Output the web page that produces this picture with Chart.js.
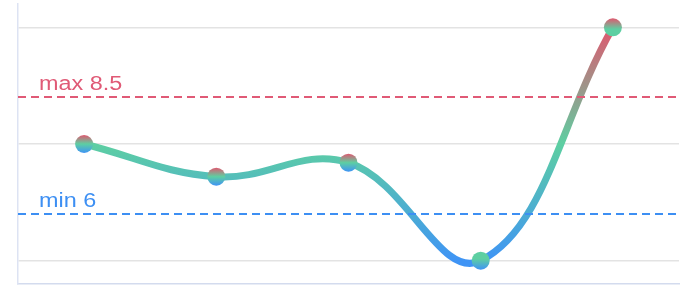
<!DOCTYPE html>
<html>
<head>
<meta charset="utf-8">
<script src="https://cdn.jsdelivr.net/npm/chart.js@4"></script>
<style>
  html, body { margin: 0; padding: 0; background: #fff; }
  #wrap { width: 684px; height: 296px; }
</style>
</head>
<body>
<div id="wrap"><canvas id="chart"></canvas></div>
<script>
// data
const labels = ['A', 'B', 'C', 'D', 'E'];
const values = [7.5, 6.8, 7.1, 5.0, 10.0];
const yTicks = [5, 7.5, 10];
const yMin = 4.5, yMax = 10.5;
const refLines = [
  { label: 'max 8.5', value: 8.5, color: '#e05a76' },
  { label: 'min 6',   value: 6,   color: '#3d8ff3' }
];

const RED = '#e0586f', GREEN = '#5dcfa2', BLUE = '#3f94f5';

// line gradient: red at the top value, green mid, blue at the bottom value
function lineGradient(ctx) {
  const chart = ctx.chart;
  const y = chart.scales.y;
  if (!y || !chart.chartArea) return GREEN;
  const top = y.getPixelForValue(Math.max(...values));
  const bot = y.getPixelForValue(Math.min(...values));
  const g = chart.ctx.createLinearGradient(0, top, 0, bot);
  g.addColorStop(0, RED);
  g.addColorStop(0.5, GREEN);
  g.addColorStop(1, BLUE);
  return g;
}

function pointGradient(ctx) {
  const el = ctx.element;
  if (!el || el.y == null) return GREEN;
  const r = 9;
  const g = ctx.chart.ctx.createLinearGradient(0, el.y - r, 0, el.y + r);
  const v = values[ctx.dataIndex];
  if (v === Math.max(...values)) {
    g.addColorStop(0, RED); g.addColorStop(0.6, GREEN); g.addColorStop(1, GREEN);
  } else if (v === Math.min(...values)) {
    g.addColorStop(0, GREEN); g.addColorStop(0.4, GREEN); g.addColorStop(1, BLUE);
  } else {
    g.addColorStop(0, RED); g.addColorStop(0.5, GREEN); g.addColorStop(1, BLUE);
  }
  return g;
}

// dashed reference lines with labels
const refLinePlugin = {
  id: 'refLines',
  afterDatasetsDraw(chart) {
    const { ctx, chartArea: a } = chart;
    const y = chart.scales.y;
    ctx.save();
    refLines.forEach(l => {
      const py = Math.round(y.getPixelForValue(l.value));
      ctx.strokeStyle = l.color;
      ctx.lineWidth = 2;
      ctx.setLineDash([8, 5]);
      ctx.beginPath();
      ctx.moveTo(a.left, py);
      ctx.lineTo(a.right, py);
      ctx.stroke();
      ctx.setLineDash([]);
      // label is drawn a bit wide, like the original
      ctx.save();
      ctx.translate(a.left + 21, py - 7);
      ctx.scale(1.2, 1);
      ctx.fillStyle = l.color;
      ctx.font = '19.5px "Liberation Sans", Arial, sans-serif';
      ctx.textBaseline = 'alphabetic';
      ctx.fillText(l.label, 0, 0);
      ctx.restore();
    });
    ctx.restore();
  }
};

new Chart(document.getElementById('chart'), {
  type: 'line',
  data: {
    labels: labels,
    datasets: [{
      data: values,
      borderColor: lineGradient,
      borderWidth: 7,
      tension: 0.4,
      pointRadius: 9,
      pointHoverRadius: 9,
      pointBorderWidth: 0,
      pointBackgroundColor: pointGradient,
      fill: false
    }]
  },
  options: {
    responsive: true,
    maintainAspectRatio: false,
    animation: false,
    layout: { autoPadding: false, padding: { left: 18, top: 4, right: 5, bottom: 4 } },
    plugins: { legend: { display: false }, tooltip: { enabled: false } },
    scales: {
      x: {
        offset: true,
        grid: { display: false },
        border: { display: true, color: '#d3dbee', width: 1.5 },
        ticks: { display: false }
      },
      y: {
        min: yMin, max: yMax,
        afterBuildTicks: s => { s.ticks = yTicks.map(v => ({ value: v })); },
        grid: { color: '#e3e3e3', lineWidth: 1.5, drawTicks: false },
        border: { display: true, color: '#dde3f3', width: 1.5 },
        ticks: { display: false }
      }
    }
  },
  plugins: [refLinePlugin]
});
</script>
</body>
</html>
